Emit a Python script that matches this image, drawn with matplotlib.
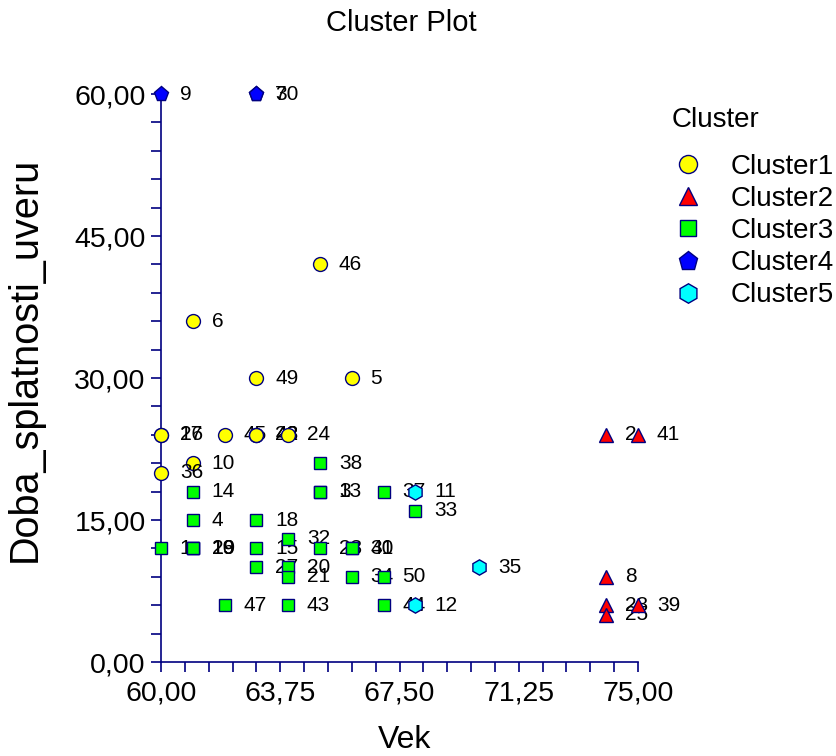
import numpy as np
import matplotlib
matplotlib.use('Agg')
import matplotlib.pyplot as plt
from matplotlib.lines import Line2D

plt.rcParams['font.family'] = ['Liberation Sans', 'DejaVu Sans']

# case number, age (Vek), loan term (Doba_splatnosti_uveru), cluster
ids = [9, 7, 30,
       46, 6, 49, 5, 17, 26, 45, 22, 42, 48, 24, 10, 36,
       14, 4, 18, 1, 16, 19, 29, 15, 27, 32, 20, 21, 43, 47, 38, 3, 13, 23, 31, 40, 34, 50, 37, 44, 33,
       11, 12, 35,
       2, 41, 8, 28, 25, 39]
vek = [60, 63, 63,
       65, 61, 63, 66, 60, 60, 62, 63, 63, 63, 64, 61, 60,
       61, 61, 63, 60, 61, 61, 61, 63, 63, 64, 64, 64, 64, 62, 65, 65, 65, 65, 66, 66, 66, 67, 67, 67, 68,
       68, 68, 70,
       74, 75, 74, 74, 74, 75]
doba = [60, 60, 60,
        42, 36, 30, 30, 24, 24, 24, 24, 24, 24, 24, 21, 20,
        18, 15, 15, 12, 12, 12, 12, 12, 10, 13, 10, 9, 6, 6, 21, 18, 18, 12, 12, 12, 9, 9, 18, 6, 16,
        18, 6, 10,
        24, 24, 9, 6, 5, 6]
cluster = [4, 4, 4,
           1, 1, 1, 1, 1, 1, 1, 1, 1, 1, 1, 1, 1,
           3, 3, 3, 3, 3, 3, 3, 3, 3, 3, 3, 3, 3, 3, 3, 3, 3, 3, 3, 3, 3, 3, 3, 3, 3,
           5, 5, 5,
           2, 2, 2, 2, 2, 2]

cluster_names = ['Cluster1', 'Cluster2', 'Cluster3', 'Cluster4', 'Cluster5']
cluster_colors = ['#ffff00', '#ff0000', '#00ff00', '#0000ff', '#00ffff']
cluster_markers = ['o', '^', 's', 'p', 'h']
cluster_sizes = [10, 10, 8.5, 11, 11]
edge = '#000080'

fig = plt.figure(figsize=(8.37, 7.56), dpi=100)
ax = fig.add_axes([0.1924, 0.1243, 0.5699, 0.7513])

for i in range(len(ids)):
    c = cluster[i] - 1
    ax.plot(vek[i], doba[i], marker=cluster_markers[c], markersize=cluster_sizes[c],
            markerfacecolor=cluster_colors[c], markeredgecolor=edge, markeredgewidth=1,
            linestyle='none', clip_on=False, zorder=3)
    ax.annotate(str(ids[i]), (vek[i], doba[i]), xytext=(13.5, 0), textcoords='offset points',
                fontsize=15, va='center', ha='left', color='black', zorder=3,
                annotation_clip=False)

ax.set_xlim(60, 75)
ax.set_ylim(0, 60)
ax.set_xticks([60, 63.75, 67.5, 71.25, 75])
ax.set_xticks(np.arange(60, 75.01, 0.75), minor=True)
ax.set_yticks([0, 15, 30, 45, 60])
ax.set_yticks(np.arange(0, 60.01, 3), minor=True)
ax.set_xticklabels(['60,00', '63,75', '67,50', '71,25', '75,00'])
ax.set_yticklabels(['0,00', '15,00', '30,00', '45,00', '60,00'])

for s in ['top', 'right']:
    ax.spines[s].set_visible(False)
for s in ['left', 'bottom']:
    ax.spines[s].set_color(edge)
    ax.spines[s].set_linewidth(1.2)
ax.tick_params(which='both', direction='out', length=7, width=1.2, color=edge,
               labelsize=20.5)
ax.tick_params(axis='x', pad=6)
ax.tick_params(axis='y', pad=4)

ax.set_xlabel('Vek', fontsize=23)
ax.set_ylabel('Doba_splatnosti_uveru', fontsize=28.5)
ax.xaxis.set_label_coords(0.511, -0.11)
ax.yaxis.set_label_coords(-0.245, 0.533)
fig.text(0.48, 0.97, 'Cluster Plot', fontsize=21, ha='center', va='center')

# legend title drawn apart, the entries sit lower than matplotlib would put them
fig.text(672 / 837, 1 - 120 / 756, 'Cluster', fontsize=20, ha='left', va='center')
handles = [Line2D([], [], marker=cluster_markers[k], markersize=cluster_sizes[k] + 3,
                  markerfacecolor=cluster_colors[k], markeredgecolor=edge,
                  linestyle='none') for k in range(5)]
leg = fig.legend(handles, cluster_names, loc='upper left',
                 bbox_to_anchor=(660 / 837, 1 - 154 / 756), frameon=False, fontsize=20,
                 handlelength=2.0, handletextpad=0.55, labelspacing=0.22,
                 borderaxespad=0, borderpad=0)

fig.savefig('out.png', dpi=100)
